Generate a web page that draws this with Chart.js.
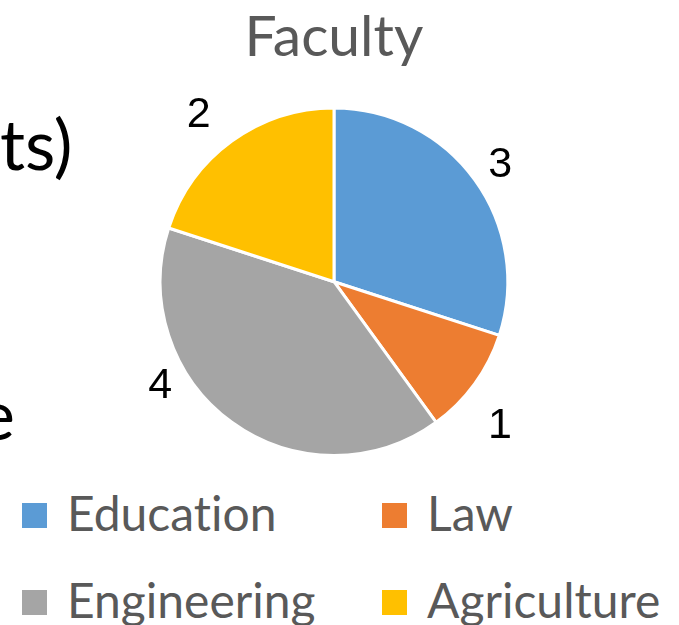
<!DOCTYPE html>
<html lang="en">
  <head>
    <meta charset="UTF-8" />
    <title>Faculty</title>
    <script src="https://cdn.jsdelivr.net/npm/chart.js"></script>
    <style>
      body {
        margin: 0;
        background: #ffffff;
        width: 679px;
        height: 625px;
        overflow: hidden;
        position: relative;
        font-family: Lato, "Open Sans", sans-serif;
        font-variant-ligatures: none;
      }
      .side-text {
        position: absolute;
        font-size: 70px;
        line-height: 70px;
        color: #000000;
        white-space: nowrap;
      }
      #chartBox {
        position: absolute;
        left: 0;
        top: 0;
        width: 679px;
        height: 470px;
      }
      #legend {
        position: absolute;
        left: 0;
        top: 489px;
        width: 679px;
      }
      .legend-item {
        position: absolute;
        display: flex;
        align-items: center;
        height: 48px;
        font-size: 48px;
        line-height: 48px;
        color: #595959;
        white-space: nowrap;
      }
      .legend-box {
        width: 25px;
        height: 25px;
        margin-right: 20px;
        margin-top: 4px;
      }
    </style>
  </head>
  <body>
    <!-- bits of neighbouring slide text that fall inside the crop -->
    <div class="side-text" style="left: 0px; top: 108px">ts)</div>
    <div class="side-text" style="left: -22px; top: 378px">e</div>

    <div id="chartBox"><canvas id="facultyChart"></canvas></div>
    <div id="legend"></div>

    <script>
      const faculties = ["Education", "Law", "Engineering", "Agriculture"];
      const facultyCounts = [3, 1, 4, 2];
      const sliceColors = ["#5B9BD5", "#ED7D31", "#A5A5A5", "#FFC000"];

      // value labels outside each slice (Excel "best fit" style)
      const outsideLabels = {
        id: "outsideLabels",
        afterDatasetsDraw(chart, args, opts) {
          const ctx = chart.ctx;
          const meta = chart.getDatasetMeta(0);
          ctx.save();
          ctx.font = opts.font;
          ctx.fillStyle = opts.color;
          ctx.textAlign = "center";
          ctx.textBaseline = "middle";
          meta.data.forEach((arc, i) => {
            const p = arc.getProps(["x", "y", "startAngle", "endAngle", "outerRadius"], true);
            const a = (p.startAngle + p.endAngle) / 2 + (opts.shift[i] * Math.PI) / 180;
            const d = p.outerRadius + opts.gap[i];
            const value = chart.data.datasets[0].data[i];
            ctx.fillText(String(value), p.x + Math.cos(a) * d, p.y + Math.sin(a) * d);
          });
          ctx.restore();
        },
      };

      const ctx = document.getElementById("facultyChart").getContext("2d");
      const chart = new Chart(ctx, {
        type: "pie",
        data: {
          labels: faculties,
          datasets: [
            {
              data: facultyCounts,
              backgroundColor: sliceColors,
              borderColor: "#ffffff",
              borderWidth: 3,
            },
          ],
        },
        options: {
          responsive: true,
          maintainAspectRatio: false,
          animation: false,
          layout: { padding: { left: 0, right: 11, bottom: 13 } },
          plugins: {
            legend: { display: false },
            tooltip: { enabled: false },
            title: {
              display: true,
              text: "Faculty",
              color: "#595959",
              font: { family: "Lato", size: 57, weight: "normal" },
              padding: { top: 3, bottom: 35 },
            },
            outsideLabels: {
              font: "43px 'Liberation Sans', Arial, sans-serif",
              color: "#000000",
              shift: [1, 5, 23, -3],
              gap: [29, 46, 29, 41],
            },
          },
        },
        plugins: [outsideLabels],
      });

      // legend built from the chart data, two columns
      const legendEl = document.getElementById("legend");
      const colX = [22, 382];
      const rowY = [0, 87];
      chart.data.labels.forEach((label, i) => {
        const item = document.createElement("div");
        item.className = "legend-item";
        item.style.left = colX[i % 2] + "px";
        item.style.top = rowY[Math.floor(i / 2)] + "px";
        item.innerHTML =
          '<span class="legend-box" style="background:' +
          chart.data.datasets[0].backgroundColor[i] +
          '"></span><span>' +
          label +
          "</span>";
        legendEl.appendChild(item);
      });
    </script>
  </body>
</html>
